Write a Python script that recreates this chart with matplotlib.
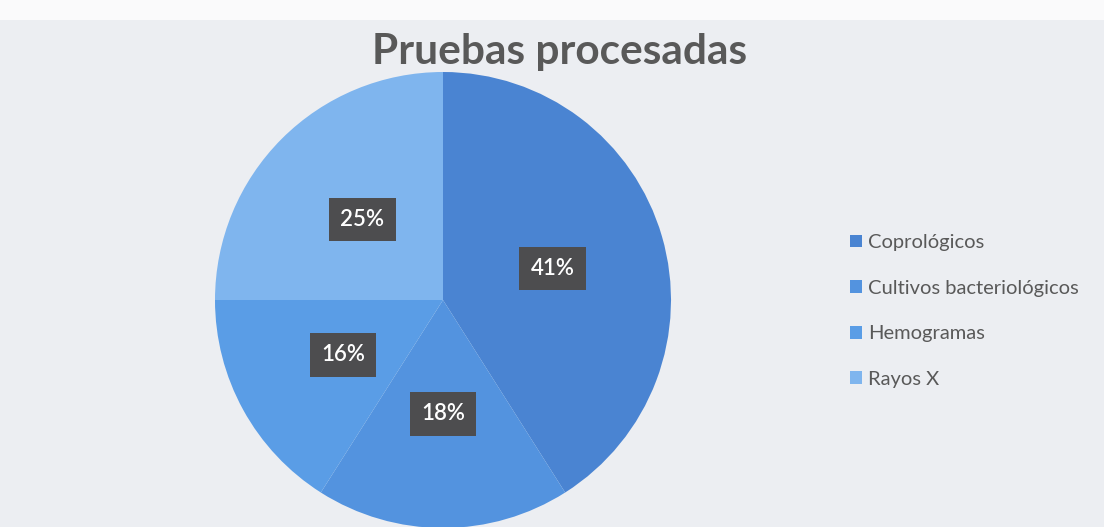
import matplotlib
matplotlib.use("Agg")
import matplotlib.pyplot as plt
from matplotlib.patches import Rectangle

categories = ["Coprológicos", "Cultivos bacteriológicos", "Hemogramas", "Rayos X"]
shares = [41, 18, 16, 25]
colors = ["#4a84d2", "#5393df", "#5a9de6", "#7fb5ee"]
title = "Pruebas procesadas"

plt.rcParams['font.family'] = ['Lato', 'DejaVu Sans']

W, H = 1104, 527
fig = plt.figure(figsize=(W / 100, H / 100), dpi=100, facecolor="#eceef2")
# white strip at the very top of the photo
fig.patches.append(Rectangle((0, 1 - 20 / H), 1, 20 / H, transform=fig.transFigure,
                             facecolor="#fafafb", edgecolor="none", zorder=0))

# pie centre ~ (443, 300) px from top-left, radius ~228 px
r_px = 228
cx, cy = 443, H - 300
ax = fig.add_axes([(cx - r_px) / W, (cy - r_px) / H, 2 * r_px / W, 2 * r_px / H])
ax.set_facecolor("none")

wedges, texts = ax.pie(shares, colors=colors, startangle=90, counterclock=False,
                       labels=[f"{v}%" for v in shares], labeldistance=0.5,
                       wedgeprops=dict(linewidth=0))
for t in texts:
    t.set_color("white")
    t.set_fontsize(16)
    t.set_fontweight("semibold")
    t.set_ha("center")
    t.set_va("center")
    t.set_bbox(dict(boxstyle="square,pad=0.5", facecolor="#4d4d4f", edgecolor="none"))
ax.set_xlim(-1, 1)
ax.set_ylim(-1, 1)
ax.set_aspect("equal")
ax.axis("off")

fig.text(560 / W, 1 - 52 / H, title, ha="center", va="center",
         fontsize=30.5, fontweight="bold", color="#595959")

leg = fig.legend(wedges, categories, loc="upper left",
                 bbox_to_anchor=(832 / W, 1 - 216 / H), frameon=False,
                 fontsize=14.5, labelcolor="#595959", handlelength=0.6, handleheight=0.6,
                 handletextpad=0.3, labelspacing=1.42)

fig.savefig("out.png", dpi=100, facecolor=fig.get_facecolor())
